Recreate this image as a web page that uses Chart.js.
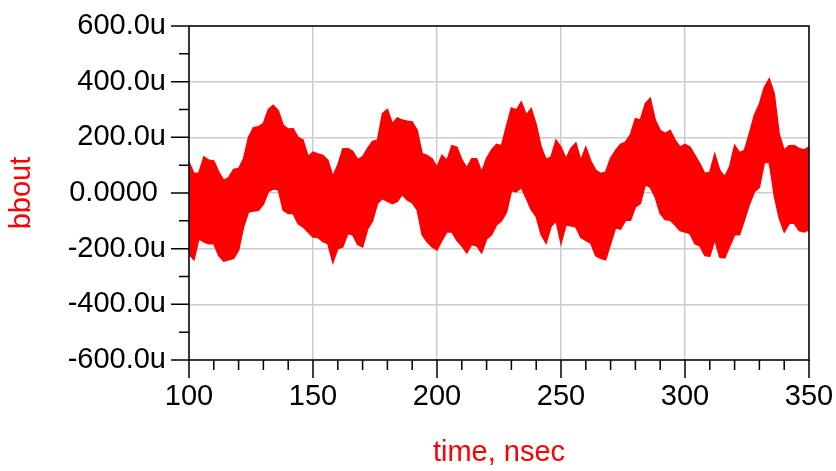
<!DOCTYPE html>
<html>
<head>
<meta charset="utf-8">
<title>bbout</title>
<script src="https://cdn.jsdelivr.net/npm/chart.js@4/dist/chart.umd.min.js"></script>
<style>
  html, body { margin: 0; padding: 0; background: #ffffff; }
  #wrap { width: 836px; height: 471px; }
</style>
</head>
<body>
<div id="wrap"><canvas id="lineChart" width="836" height="471"></canvas></div>
<script>
// time axis (nsec), one sample every 2 ns
const timeNs = [];
for (let t = 100; t <= 350; t += 2) timeNs.push(t);

// upper and lower edge of the bbout swing, in micro-units
const upperU = [
  110, 70, 72, 130, 118, 115, 75, 45, 55, 85,
  88, 123, 200, 235, 238, 250, 300, 315, 295, 243,
  230, 231, 200, 190, 130, 147, 140, 135, 117, 60,
  100, 158, 160, 150, 120, 130, 160, 185, 190, 285,
  300, 250, 270, 262, 258, 255, 225, 141, 135, 123,
  93, 135, 117, 170, 165, 120, 90, 123, 123, 75,
  125, 155, 175, 170, 240, 305, 298, 327, 280, 303,
  245, 165, 120, 130, 190, 165, 123, 160, 180, 117,
  165, 115, 82, 70, 75, 125, 153, 175, 183, 210,
  267, 262, 321, 340, 262, 225, 213, 225, 190, 165,
  175, 165, 135, 105, 70, 75, 140, 82, 58, 94,
  171, 145, 154, 215, 280, 320, 380, 410, 356, 210,
  154, 170, 171, 160, 155, 165
];
const lowerU = [
  -220, -240, -165, -175, -182, -182, -225, -245, -240, -235,
  -206, -122, -68, -65, -62, -40, 5, 15, 12, -62,
  -74, -74, -110, -122, -140, -158, -160, -175, -182, -250,
  -200, -194, -146, -150, -185, -194, -130, -100, -38, -20,
  -30, -38, -30, -5, -25, -35, -60, -150, -175, -194,
  -205, -170, -140, -140, -170, -190, -215, -185, -190, -215,
  -165, -150, -115, -100, -70, 8, 5, 20, -20, -60,
  -85, -150, -180, -120, -100, -182, -115, -118, -122, -160,
  -170, -180, -225, -235, -240, -182, -125, -130, -98, -98,
  -50, -38, 30, 20, -15, -74, -95, -98, -115, -135,
  -140, -146, -182, -190, -225, -227, -168, -230, -233, -192,
  -150, -150, -96, -40, 5, 20, 110, 110, -10, -90,
  -140, -110, -108, -135, -140, -132
];

const RED = '#ff0000';
const GRID = '#cccccc';
const FONT = 'Arial, "Liberation Sans", sans-serif';

function pts(values) {
  return values.map((v, i) => ({ x: timeNs[i], y: v }));
}

// keep the plot box where the layout padding puts it
function noEdgePadding(scale) {
  scale.paddingTop = 0;
  scale.paddingBottom = 0;
  scale.paddingLeft = 0;
  scale.paddingRight = 0;
}

// short and long tick marks outside the plot box, plus the box itself
const axisTicks = {
  id: 'axisTicks',
  afterDraw(chart) {
    const { ctx, chartArea: a, scales } = chart;
    ctx.save();
    ctx.strokeStyle = '#000000';
    ctx.lineWidth = 1.5;
    ctx.beginPath();
    scales.y.ticks.forEach(tk => {
      const y = scales.y.getPixelForValue(tk.value);
      const len = tk.value % 200 === 0 ? 18 : 10;
      ctx.moveTo(a.left - len, y);
      ctx.lineTo(a.left, y);
    });
    scales.x.ticks.forEach(tk => {
      const x = scales.x.getPixelForValue(tk.value);
      const len = tk.value % 50 === 0 ? 18 : 10;
      ctx.moveTo(x, a.bottom);
      ctx.lineTo(x, a.bottom + len);
    });
    ctx.stroke();
    ctx.strokeRect(a.left, a.top, a.right - a.left, a.bottom - a.top);
    ctx.restore();
  }
};

function loadLineChart() {
  const ctx = document.getElementById('lineChart').getContext('2d');
  new Chart(ctx, {
    type: 'line',
    data: {
      datasets: [{
        label: 'bbout max',
        data: pts(upperU),
        borderColor: RED,
        backgroundColor: RED,
        borderWidth: 1.5,
        pointRadius: 0,
        tension: 0,
        fill: '+1'
      }, {
        label: 'bbout min',
        data: pts(lowerU),
        borderColor: RED,
        backgroundColor: RED,
        borderWidth: 1.5,
        pointRadius: 0,
        tension: 0,
        fill: false
      }]
    },
    options: {
      responsive: false,
      animation: false,
      events: [],
      layout: { padding: { top: 26, right: 27, left: 0, bottom: 0 } },
      plugins: {
        legend: { display: false },
        tooltip: { enabled: false }
      },
      scales: {
        x: {
          type: 'linear',
          min: 100,
          max: 350,
          afterFit(scale) {
            scale.height = 111;
            noEdgePadding(scale);
          },
          border: { display: false },
          grid: {
            drawTicks: false,
            lineWidth: 1.5,
            color: c => (c.tick && c.tick.value % 50 === 0 ? GRID : 'rgba(0,0,0,0)')
          },
          ticks: {
            stepSize: 10,
            autoSkip: false,
            maxRotation: 0,
            padding: 20,
            color: '#000000',
            font: { family: FONT, size: 29 },
            callback: v => (v % 50 === 0 ? String(v) : '')
          },
          title: {
            display: true,
            text: 'time, nsec',
            color: RED,
            font: { family: FONT, size: 29 },
            padding: { top: 0, bottom: 1 }
          }
        },
        y: {
          type: 'linear',
          min: -600,
          max: 600,
          afterFit(scale) {
            scale.width = 189;
            noEdgePadding(scale);
          },
          border: { display: false },
          grid: {
            drawTicks: false,
            lineWidth: 1.5,
            color: c => (c.tick && c.tick.value % 200 === 0 ? GRID : 'rgba(0,0,0,0)')
          },
          ticks: {
            stepSize: 100,
            autoSkip: false,
            padding: 23,
            color: '#000000',
            font: { family: FONT, size: 29 },
            callback: v => {
              if (v === 0) return '0.0000 ';
              return v % 200 === 0 ? v.toFixed(1) + 'u' : '';
            }
          },
          title: {
            display: true,
            text: 'bbout',
            color: RED,
            font: { family: FONT, size: 29 },
            padding: { top: 5, bottom: 0 }
          }
        }
      }
    },
    plugins: [axisTicks]
  });
}

loadLineChart();
</script>
</body>
</html>
